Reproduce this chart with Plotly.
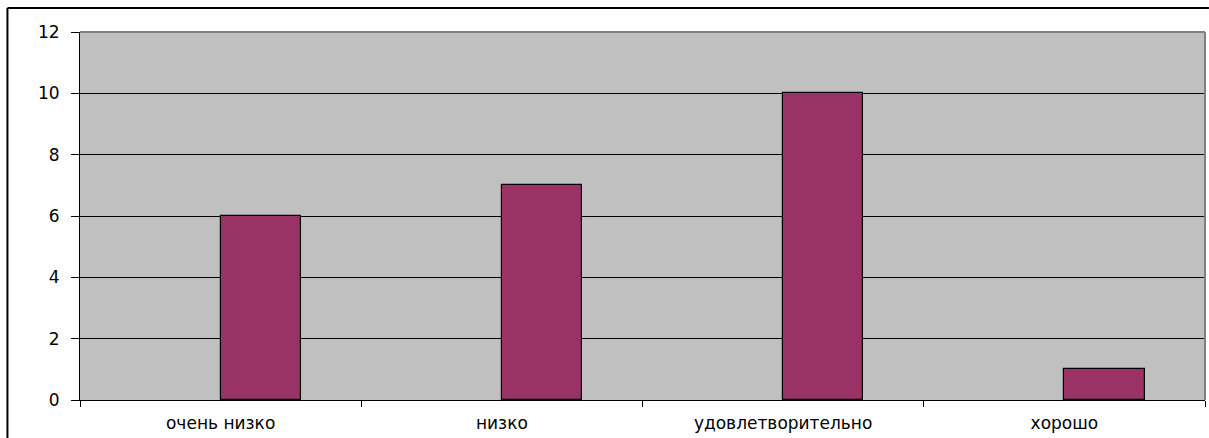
import plotly.graph_objects as go

# Survey results by rating level
categories = ["очень низко", "низко", "удовлетворительно", "хорошо"]
counts = [6, 7, 10, 1]
y_ticks = [0, 2, 4, 6, 8, 10, 12]

fig = go.Figure()
fig.add_trace(go.Bar(
    x=categories,
    y=counts,
    width=0.2857,
    offset=0,
    marker=dict(color="#993366", line=dict(color="#000000", width=1.2)),
    showlegend=False,
))

font = dict(family="DejaVu Sans, Liberation Sans, Arial, sans-serif", size=17, color="#000000")

fig.update_layout(
    width=1209,
    height=438,
    margin=dict(l=80, r=4, t=32, b=38),
    paper_bgcolor="#FFFFFF",
    plot_bgcolor="#C0C0C0",
    font=font,
    bargap=0,
    xaxis=dict(
        type="category",
        tickson="boundaries",
        ticks="outside",
        ticklen=6,
        tickcolor="#000000",
        showline=True,
        linecolor="#000000",
        linewidth=1,
        showgrid=False,
        tickfont=font,
        range=[-0.5, 3.5],
        ticklabelstandoff=8,
    ),
    yaxis=dict(
        range=[0, 12],
        tickvals=y_ticks,
        ticks="outside",
        ticklen=8,
        tickcolor="#000000",
        showline=True,
        linecolor="#000000",
        linewidth=1,
        showgrid=True,
        gridcolor="#000000",
        gridwidth=1,
        zeroline=False,
        tickfont=font,
        ticklabelstandoff=8,
    ),
    shapes=[
        # plot frame (top and right edges in gray)
        dict(type="line", xref="paper", yref="paper", x0=0, x1=1, y0=1, y1=1,
             line=dict(color="#808080", width=2), layer="above"),
        dict(type="line", xref="paper", yref="paper", x0=1, x1=1, y0=0, y1=1,
             line=dict(color="#808080", width=2), layer="above"),
        # chart area border (top and left edges)
        dict(type="line", xref="paper", yref="paper",
             x0=-0.0645, x1=1.0035, y0=1.0655, y1=1.0655,
             line=dict(color="#000000", width=2)),
        dict(type="line", xref="paper", yref="paper",
             x0=-0.0645, x1=-0.0645, y0=-0.2, y1=1.0655,
             line=dict(color="#000000", width=2)),
    ],
)

fig.write_html("out.html")
